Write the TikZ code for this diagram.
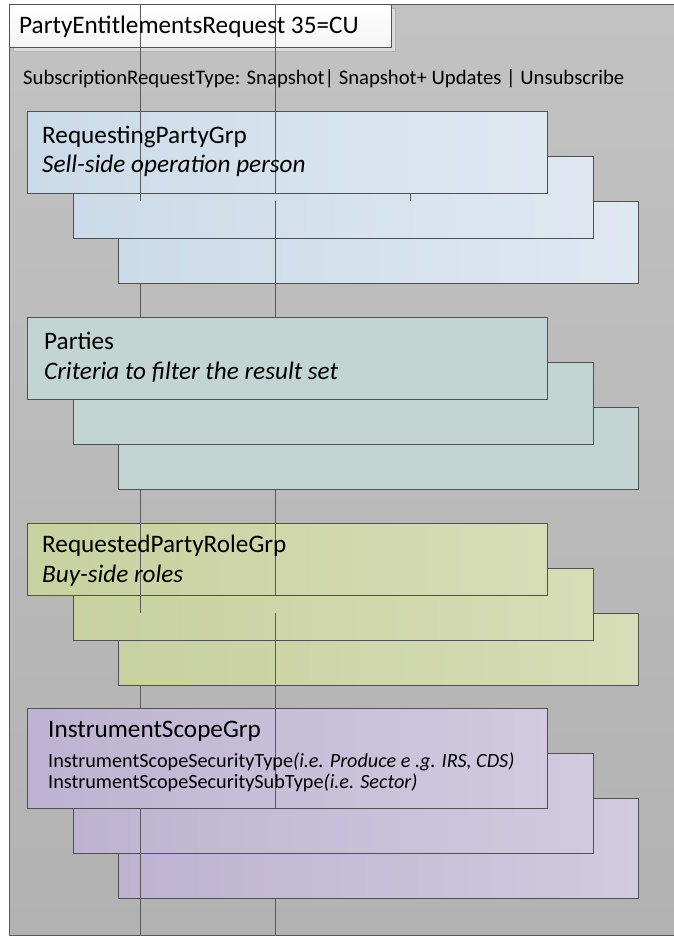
\documentclass[tikz,border=0pt]{standalone}
\usepackage{fontspec}
\setmainfont{Carlito}
\usetikzlibrary{calc}
\definecolor{gridc}{HTML}{5A5A5A}
\definecolor{edgec}{HTML}{505050}
\definecolor{bgtop}{HTML}{C2C2C2}
\definecolor{bgbot}{HTML}{B2B2B2}
\definecolor{blueL}{HTML}{CCDBE9}
\definecolor{blueR}{HTML}{DFE8F1}
\definecolor{stripeF}{HTML}{C2D5D2}
\definecolor{greenL}{HTML}{C8D19F}
\definecolor{greenR}{HTML}{D7DDB8}
\definecolor{lilacL}{HTML}{BDB3D1}
\definecolor{lilacR}{HTML}{D1CAE0}
\tikzset{
  grp/.style={draw=edgec, line width=1pt, anchor=north west, minimum width=520pt, inner sep=0pt},
  bluebox/.style={grp, left color=blueL, right color=blueR, minimum height=82pt},
  stripebox/.style={grp, fill=stripeF, minimum height=82pt},
  greenbox/.style={grp, left color=greenL, right color=greenR, minimum height=72pt},
  lilacbox/.style={grp, left color=lilacL, right color=lilacR, minimum height=100pt},
  gridline/.style={draw=gridc, line width=0.6pt},
  lbl/.style={anchor=base west, inner sep=0pt, text=black},
  big/.style={font=\fontsize{25.2}{29}\selectfont},
  bigit/.style={font=\fontsize{25.2}{29}\selectfont\itshape},
  mid/.style={font=\fontsize{20.7}{24}\selectfont},
  small/.style={font=\fontsize{20.2}{23}\selectfont},
}
\begin{document}
\begin{tikzpicture}[x=1pt,y=-1pt]
\useasboundingbox (0,0) rectangle (674,937);
% outer panel
\node[draw=gray!70!black, top color=bgtop, bottom color=bgbot, line width=0.8pt, anchor=north west, minimum width=680pt, minimum height=931pt, inner sep=0pt] (panel) at (9,4) {};
% grid lines behind
\coordinate (ga1) at (140,4); \coordinate (gb1) at (140,935);
\coordinate (ga2) at (275,4); \coordinate (gb2) at (275,935);
% title
\node[fill=gray!28, draw=gray!60, anchor=north west, minimum width=382pt, minimum height=43pt, inner sep=0pt] (tshadow) at (13,8) {};
\node[draw=gray!65!black, top color=white, bottom color=gray!8, anchor=north west, minimum width=382pt, minimum height=43pt, inner sep=0pt] (tbox) at (9,4) {};
\draw[gridline] (ga1) -- (gb1);
\draw[gridline] (ga2) -- (gb2);
\node[lbl, big] (ttext) at (19,33) {PartyEntitlementsRequest 35=CU};
\node[lbl, mid] (sub) at (23,84) {SubscriptionRequestType: Snapshot| Snapshot+ Updates | Unsubscribe};
% group 1
\node[bluebox] (g1c) at (118,201) {};
\node[bluebox] (g1b) at (72.5,156) {};
\node[bluebox] (g1a) at (27,111) {};
% group 2
\node[stripebox] (g2c) at (118,407) {};
\node[stripebox] (g2b) at (72.5,362) {};
\node[stripebox] (g2a) at (27,317) {};
% group 3
\node[greenbox] (g3c) at (118,613) {};
\node[greenbox] (g3b) at (72.5,568) {};
\node[greenbox] (g3a) at (27,523) {};
% group 4
\node[lilacbox] (g4c) at (118,798) {};
\node[lilacbox] (g4b) at (72.5,753) {};
\node[lilacbox] (g4a) at (27,708) {};
% visible grid segments over boxes
\draw[gridline] (140,111) -- (140,201);
\draw[gridline] (275,111) -- (275,193);
\draw[gridline] (275,201) -- (275,283);
\draw[gridline] (410,193) -- (410,201);
\draw[gridline] (140,523) -- (140,613);
\draw[gridline] (275,523) -- (275,595);
\draw[gridline] (275,613) -- (275,684);
\draw[gridline] (140,808) -- (140,898);
\draw[gridline] (275,708) -- (275,808);
% texts
\node[lbl, big] (t1a) at (42,143) {RequestingPartyGrp};
\node[lbl, bigit] (t1b) at (42,172) {Sell-side operation person};
\node[lbl, big] (t2a) at (44,349) {Parties};
\node[lbl, bigit] (t2b) at (44,379) {Criteria to filter the result set};
\node[lbl, big] (t3a) at (42,552) {RequestedPartyRoleGrp};
\node[lbl, bigit] (t3b) at (42,582) {Buy-side roles};
\node[lbl, big] (t4a) at (48,737) {InstrumentScopeGrp};
\node[lbl, small] (t4b) at (48,767) {InstrumentScopeSecurityType\textit{(i.e. Produce e .g. IRS, CDS)}};
\node[lbl, small] (t4c) at (48,788) {InstrumentScopeSecuritySubType\textit{(i.e. Sector)}};
\end{tikzpicture}
\end{document}
